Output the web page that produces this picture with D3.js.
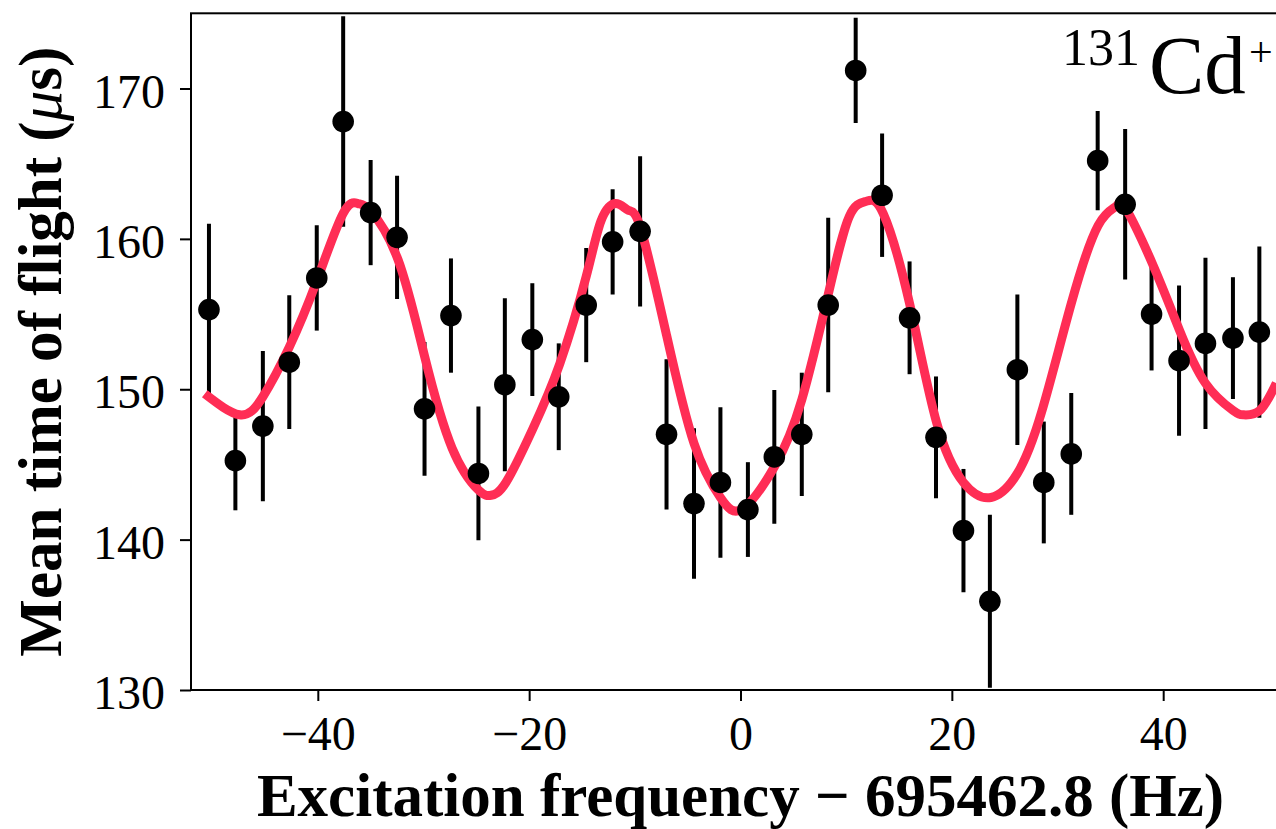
<!DOCTYPE html>
<html>
<head>
<meta charset="utf-8">
<script src="https://cdn.jsdelivr.net/npm/d3@7"></script>
<style>
  body { margin: 0; background: white; }
  svg { display: block; }
  .tick text { font-family: "Liberation Serif", serif; font-size: 48px; fill: black; }
  .tick line { stroke: black; stroke-width: 2; }
  .label { font-family: "Liberation Serif", serif; font-weight: bold; font-size: 61px; }
  .ion { font-family: "Liberation Serif", serif; }
</style>
</head>
<body>
<div id="chart"></div>
<script>
// Measured points (frequency offset in Hz, mean TOF in us, 1-sigma error)
const freq = [-50.3, -47.8, -45.2, -42.7, -40.1, -37.6, -35.0, -32.5, -29.9, -27.4,
              -24.8, -22.3, -19.7, -17.2, -14.6, -12.1, -9.5, -7.0, -4.4, -1.9,
              0.7, 3.2, 5.8, 8.3, 10.9, 13.4, 16.0, 18.5, 21.1, 23.6,
              26.2, 28.7, 31.3, 33.8, 36.4, 38.9, 41.5, 44.0, 46.6, 49.1, 51.7];
const tof = [155.3, 145.25, 147.55, 151.8, 157.4, 167.8, 161.75, 160.1, 148.7, 154.9,
             144.4, 150.3, 153.3, 149.5, 155.6, 159.8, 160.5, 147.0, 142.4, 143.8,
             142.0, 145.5, 147.0, 155.6, 171.2, 162.9, 154.75, 146.8, 140.6, 135.9,
             151.3, 143.8, 145.7, 165.2, 162.3, 155.0, 151.9, 153.05, 153.4, 153.8, 151.3];
const tofErr = [5.7, 3.3, 5.0, 4.45, 3.5, 7.0, 3.5, 4.1, 4.45, 3.8,
                4.45, 5.75, 3.75, 3.55, 3.8, 3.5, 5.0, 5.0, 5.0, 5.0,
                3.15, 4.45, 4.1, 5.8, 3.5, 4.1, 3.75, 4.05, 4.1, 5.75,
                5.0, 4.05, 4.05, 3.3, 5.0, 3.75, 5.0, 5.7, 4.05, 5.7, 4.5];

// Fit curve
const fitX = [-50.7, -47.4, -45.2, -42.7, -40.1, -37.6, -36.2, -35.0, -32.4, -29.9,
              -27.3, -24.8, -23.6, -22.2, -19.7, -17.1, -14.6, -13.2, -11.8, -10.6,
              -9.4, -7.0, -4.4, -1.9, 0.2, 3.25, 5.8, 8.4, 10.3, 11.9,
              13.5, 16.0, 18.55, 21.1, 23.7, 26.2, 28.5, 31.3, 33.85, 35.6,
              36.4, 38.95, 41.5, 44.0, 46.6, 47.6, 49.15, 50.7];
const fitY = [149.7, 148.3, 149.5, 152.8, 157.2, 161.7, 162.35, 161.85, 158.6, 152.2,
              146.1, 143.3, 142.95, 143.8, 147.3, 151.7, 157.5, 161.2, 162.35, 161.9,
              160.6, 153.6, 146.4, 142.8, 142.05, 144.9, 149.3, 156.6, 161.5, 162.5,
              161.7, 155.7, 147.8, 143.8, 142.8, 144.4, 148.5, 155.7, 160.9, 162.2,
              162.1, 158.4, 154.0, 150.4, 148.6, 148.3, 148.6, 150.4];

// Axis ticks
const xTicks = [-40, -20, 0, 20, 40];
const yTicks = [130, 140, 150, 160, 170];

const width = 1276, height = 829;
// axes box; the right spine falls just off the page
const boxLeft = 191, boxTop = 13.3, boxBottom = 690, boxRight = 1290;

const svg = d3.select('#chart').append('svg')
    .attr('width', width)
    .attr('height', height);

const x = d3.scaleLinear().domain([-52, 52]).range([boxLeft, boxRight]);
const y = d3.scaleLinear().domain([130, 175]).range([boxBottom, boxTop]);

// clip everything drawn inside the axes box
svg.append('clipPath').attr('id', 'plot-clip')
  .append('rect')
    .attr('x', boxLeft).attr('y', boxTop)
    .attr('width', boxRight - boxLeft).attr('height', boxBottom - boxTop);

const plot = svg.append('g').attr('clip-path', 'url(#plot-clip)');

const points = freq.map((f, i) => ({f: f, t: tof[i], e: tofErr[i]}));

// error bars first, then the fit, then the markers on top
plot.selectAll('line.err')
  .data(points)
  .join('line')
    .classed('err', true)
    .attr('x1', d => x(d.f)).attr('x2', d => x(d.f))
    .attr('y1', d => y(d.t - d.e)).attr('y2', d => y(d.t + d.e))
    .attr('stroke', 'black')
    .attr('stroke-width', 4);

const fit = fitX.map((v, i) => [v, fitY[i]]);
plot.append('path')
    .datum(fit)
    .attr('fill', 'none')
    .attr('stroke', '#ff2d55')
    .attr('stroke-width', 9)
    .attr('d', d3.line()
        .x(d => x(d[0]))
        .y(d => y(d[1]))
        .curve(d3.curveNatural));

plot.selectAll('circle.pt')
  .data(points)
  .join('circle')
    .classed('pt', true)
    .attr('cx', d => x(d.f))
    .attr('cy', d => y(d.t))
    .attr('r', 10.8)
    .attr('fill', 'black');

// axes
const xAxis = svg.append('g')
    .attr('transform', `translate(0,${boxBottom})`)
    .call(d3.axisBottom(x).tickValues(xTicks).tickSize(11)
        .tickFormat(d => d < 0 ? '\u2212' + Math.abs(d) : d));
xAxis.select('.domain').remove();
xAxis.selectAll('.tick text').attr('y', 60).attr('dy', 0);

const yAxis = svg.append('g')
    .attr('transform', `translate(${boxLeft},0)`)
    .call(d3.axisLeft(y).tickValues(yTicks).tickSize(11).tickPadding(15));
yAxis.select('.domain').remove();
yAxis.selectAll('.tick text').attr('dy', '0.39em');

// frame
svg.append('rect')
    .attr('x', boxLeft).attr('y', boxTop)
    .attr('width', boxRight - boxLeft).attr('height', boxBottom - boxTop)
    .attr('fill', 'none')
    .attr('stroke', 'black')
    .attr('stroke-width', 2);

// axis titles
svg.append('text')
    .attr('class', 'label')
    .attr('x', (boxLeft + boxRight) / 2)
    .attr('y', 816)
    .attr('text-anchor', 'middle')
    .text('Excitation frequency \u2212 695462.8 (Hz)');

const yLabel = svg.append('text')
    .attr('class', 'label')
    .attr('text-anchor', 'middle')
    .attr('transform', `translate(61,${(boxTop + boxBottom) / 2}) rotate(-90)`);
yLabel.append('tspan').text('Mean time of flight (');
yLabel.append('tspan').attr('font-style', 'italic').attr('font-weight', 'normal').text('\u03bc');
yLabel.append('tspan').text('s)');

// ion label in the corner, + squeezed in so it stays on the page
const ion = svg.append('g').attr('class', 'ion');
ion.append('text').attr('x', 1062).attr('y', 65).attr('font-size', 52).text('131');
ion.append('text').attr('x', 1149).attr('y', 93).attr('font-size', 83).text('Cd');
ion.append('text').attr('x', 1249).attr('y', 66).attr('font-size', 42).text('+');
</script>
</body>
</html>
